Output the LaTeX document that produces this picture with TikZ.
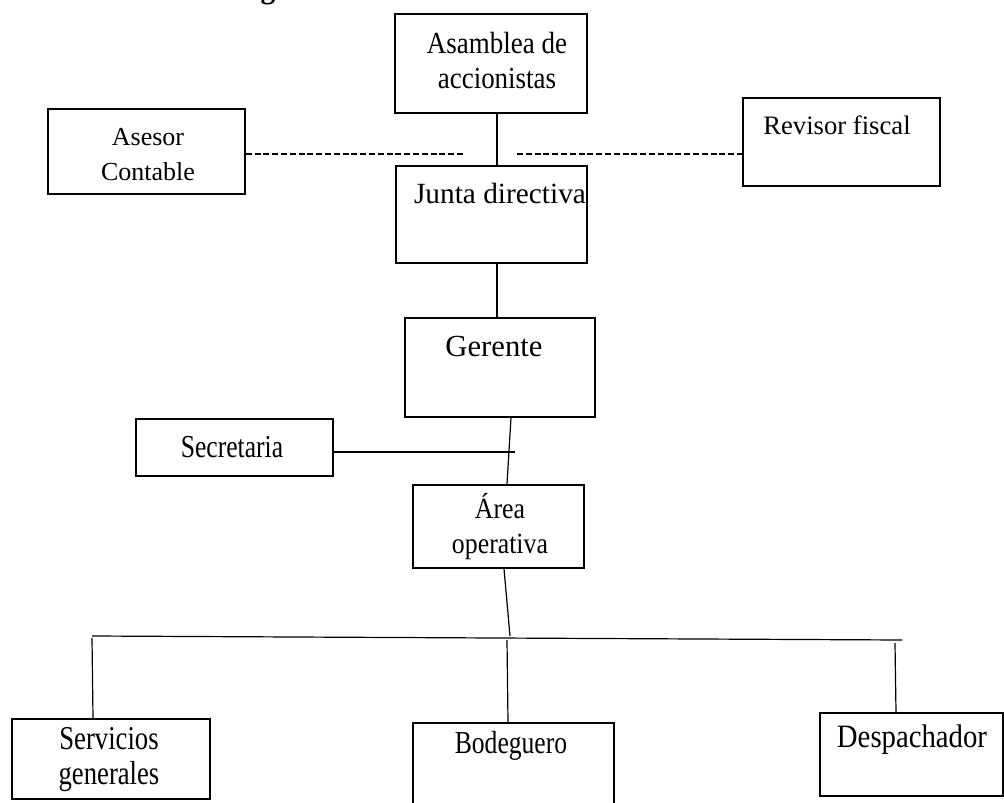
\documentclass[tikz,border=0pt]{standalone}
\usepackage{fontspec}
\setmainfont{Liberation Serif}
\newfontfamily\narrowfont[FakeStretch=0.8]{Liberation Serif}
\newfontfamily\semifont[FakeStretch=0.88]{Liberation Serif}
\usepackage{tikz}

\tikzset{
  box/.style={draw, line width=1.4pt, inner sep=0pt, anchor=north west},
  link/.style={line width=0.9pt},
  dashlink/.style={line width=0.9pt, dash pattern=on 4.5pt off 2.1pt},
  lbl/.style={align=center, inner sep=0pt, font=\fontsize{20}{26.25}\selectfont},
  narrowlbl/.style={lbl, font=\narrowfont\fontsize{24}{26.25}\selectfont},
  semilbl/.style={lbl, font=\semifont\fontsize{23}{26.25}\selectfont}
}

\begin{document}
\begin{tikzpicture}[x=0.75pt,y=-0.75pt]
	\useasboundingbox (0,0) rectangle (1004,803);
	\node[anchor=base, inner sep=0pt, font=\fontsize{22}{26}\selectfont\bfseries] (title) at (268,-2) {g};
	% cajas
	\node[box, minimum width=144pt, minimum height=74.25pt] (asamblea) at (394,13) {};
	\node[box, minimum width=147.75pt, minimum height=63.75pt] (asesor) at (47,108) {};
	\node[box, minimum width=147.75pt, minimum height=66pt] (revisor) at (742,97) {};
	\node[box, minimum width=143.25pt, minimum height=72.75pt] (junta) at (395,165) {};
	\node[box, minimum width=142.5pt, minimum height=74.25pt] (gerente) at (404,317) {};
	\node[box, minimum width=147.75pt, minimum height=42.75pt] (secretaria) at (135,418) {};
	\node[box, minimum width=128.25pt, minimum height=62.25pt] (area) at (412,484) {};
	\node[box, minimum width=148.5pt, minimum height=60pt] (servicios) at (11,718) {};
	\node[box, minimum width=150.75pt, minimum height=67.5pt] (bodeguero) at (412,722) {};
	\node[box, minimum width=137.25pt, minimum height=62.25pt] (despachador) at (819,712) {};
	% textos
	\node[semilbl] (asambleatxt) at (497,61) {Asamblea de\\accionistas};
	\node[lbl, font=\fontsize{19.5}{26.25}\selectfont] (asesortxt) at (148,155) {Asesor\\Contable};
	\node[lbl] (revisortxt) at (837,125) {Revisor fiscal};
	\node[lbl, font=\fontsize{22}{26}\selectfont] (juntatxt) at (500,193) {Junta directiva};
	\node[lbl, font=\fontsize{23}{26}\selectfont] (gerentetxt) at (494,346) {Gerente};
	\node[narrowlbl] (secretariatxt) at (232,447) {Secretaria};
	\node[semilbl, font=\semifont\fontsize{22}{26.25}\selectfont] (areatxt) at (500,527) {Área\\operativa};
	\node[narrowlbl, font=\narrowfont\fontsize{25}{26.25}\selectfont] (serviciostxt) at (109,760) {Servicios\\generales};
	\node[narrowlbl] (bodeguerotxt) at (511,746) {Bodeguero};
	\node[semilbl, font=\semifont\fontsize{24.5}{26}\selectfont] (despachadortxt) at (912,740) {Despachador};
	% lineas
	\coordinate (dl) at (464,154);
	\coordinate (dr) at (517,154);
	\coordinate (sec) at (515,452);
	\coordinate (hl) at (92,636);
	\coordinate (hr) at (902,640);
	\draw[link] (497,0 |- asamblea.south) -- (497,0 |- junta.north);
	\draw[dashlink] (dl -| asesor.east) -- (dl);
	\draw[dashlink] (dr) -- (dr -| revisor.west);
	\draw[link] (497,0 |- junta.south) -- (497,0 |- gerente.north);
	\draw[link] (511,0 |- gerente.south) -- (507,0 |- area.north);
	\draw[link] (secretaria.east |- sec) -- (sec);
	\draw[link] (504,0 |- area.south) -- (510,636);
	\draw[link] (hl) -- (hr);
	\draw[link] (92,638) -- (93,0 |- servicios.north);
	\draw[link] (507,640) -- (508,0 |- bodeguero.north);
	\draw[link] (895,643) -- (896,0 |- despachador.north);
\end{tikzpicture}
\end{document}
